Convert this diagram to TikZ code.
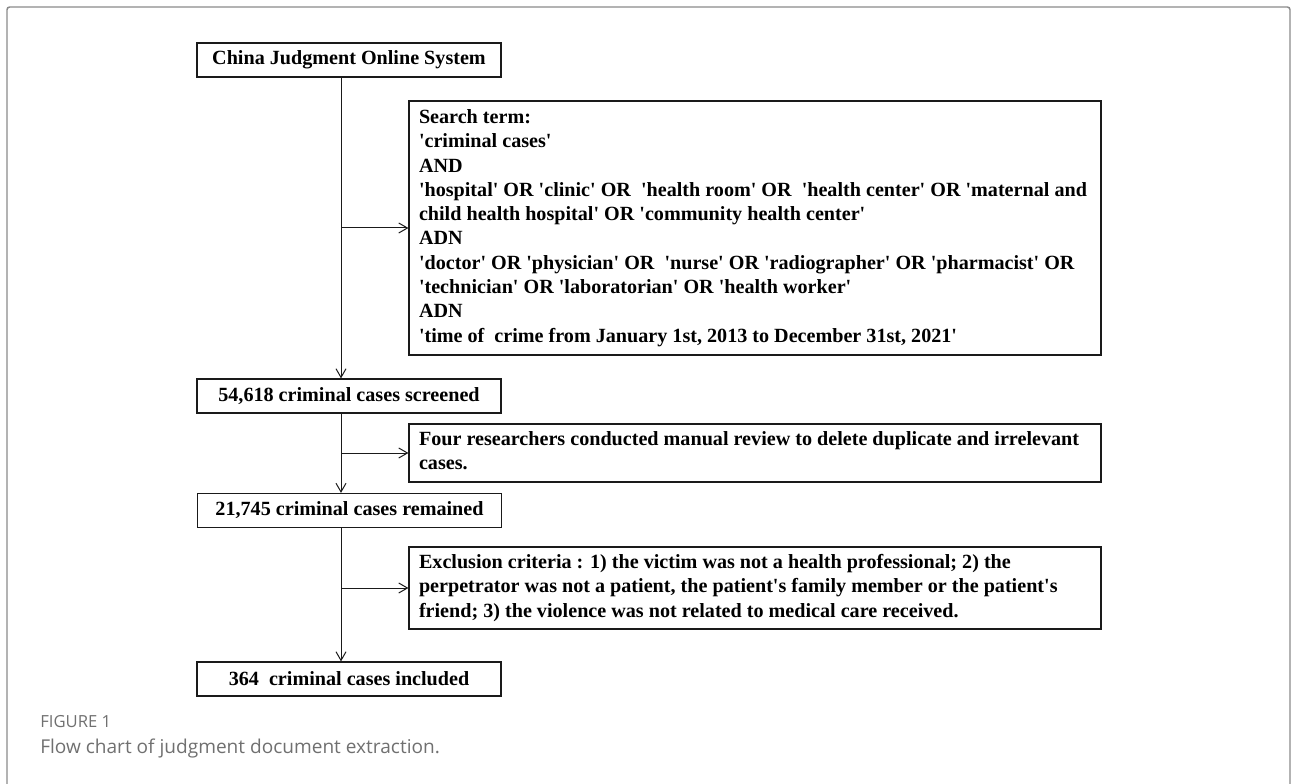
\documentclass[tikz,border=0pt]{standalone}
\usepackage{fontspec}
\setmainfont{Liberation Serif}
\newfontfamily\capfont{Open Sans}
\usetikzlibrary{arrows.meta}
\newcommand{\qq}{\textquotesingle}
\definecolor{framegray}{HTML}{8A8A8A}
\definecolor{capgray}{HTML}{707070}
\definecolor{linegray}{HTML}{1A1A1A}
\begin{document}
\begin{tikzpicture}[x=0.75pt,y=-0.75pt,
  boxfont/.style={font=\bfseries\fontsize{15.1}{18.2}\selectfont},
  stepbox/.style={draw=linegray, line width=0.9pt, boxfont, inner sep=0pt,
    minimum width=228pt, minimum height=25.5pt},
  notebox/.style={draw=linegray, line width=0.9pt, boxfont, inner sep=0pt,
    minimum width=519pt},
  arr/.style={draw=linegray, line width=0.75pt, -{Straight Barb[length=6.5pt,width=7.5pt]}},
  captext/.style={anchor=west, inner sep=0pt, text=capgray}]
\useasboundingbox (0,0) rectangle (1292,784);
\draw[framegray, line width=1.1pt, rounded corners=2pt] (7,7) rectangle (1290,840);

\node[stepbox] (sys) at (349,60) {China Judgment Online System};
\node[stepbox] (scr) at (349,396) {54,618 criminal cases screened};
\node[stepbox] (rem) at (349.5,510.5) {21,745 criminal cases remained};
\node[stepbox] (inc) at (349,679) {364\ \ criminal cases included};

\node[notebox, minimum height=190.5pt] (srch) at (755,228) {\makebox[504pt][l]{\begin{tabular}{@{}l@{}}
Search term:\\
\qq criminal cases\qq\\
AND\\
\qq hospital\qq{} OR \qq clinic\qq{} OR\ \ \qq health room\qq{} OR\ \ \qq health center\qq{} OR \qq maternal and\\
child health hospital\qq{} OR \qq community health center\qq\\
ADN\\
\qq doctor\qq{} OR \qq physician\qq{} OR\ \ \qq nurse\qq{} OR \qq radiographer\qq{} OR \qq pharmacist\qq{} OR\\
\qq technician\qq{} OR \qq laboratorian\qq{} OR \qq health worker\qq\\
ADN\\
\qq time of\ \ crime from January 1st, 2013 to December 31st, 2021\qq
\end{tabular}}};

\node[notebox, minimum height=43.5pt] (rev) at (755,453) {\makebox[504pt][l]{\begin{tabular}{@{}l@{}}
Four researchers conducted manual review to delete duplicate and irrelevant\\
cases.
\end{tabular}}};

\node[notebox, minimum height=61.5pt] (exc) at (755,588) {\makebox[504pt][l]{\begin{tabular}{@{}l@{}}
Exclusion criteria : 1) the victim was not a health professional; 2) the\\
perpetrator was not a patient, the patient\qq s family member or the patient\qq s\\
friend; 3) the violence was not related to medical care received.
\end{tabular}}};

\coordinate (tx) at (341,0);
\draw[arr] (sys.south -| tx) -- (scr.north -| tx);
\draw[arr] (tx |- srch.west) -- (srch.west);
\draw[arr] (scr.south -| tx) -- (rem.north -| tx);
\draw[arr] (tx |- rev.west) -- (rev.west);
\draw[arr] (rem.south -| tx) -- (inc.north -| tx);
\draw[arr] (tx |- exc.west) -- (exc.west);

\node[captext, font=\capfont\fontsize{12.5}{15}\selectfont] (fig) at (40,722) {FIGURE 1};
\node[captext, font=\capfont\fontsize{14.3}{17}\selectfont] (cap) at (40,748) {Flow chart of judgment document extraction.};
\end{tikzpicture}
\end{document}
